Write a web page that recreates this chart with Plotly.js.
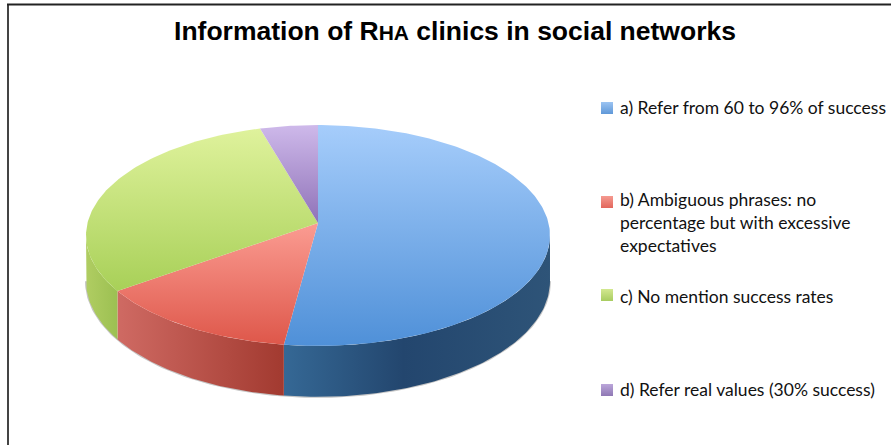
<!DOCTYPE html>
<html><head><meta charset="utf-8">
<script src="https://cdn.plot.ly/plotly-3.0.1.min.js"></script>
<style>html,body{margin:0;padding:0;background:#fff}#chart{width:891px;height:445px}</style>
</head><body><div id="chart"></div>
<script>
// ---- data ----
const categories = ["a) Refer from 60 to 96% of success",
  "b) Ambiguous phrases: no<br>percentage but with excessive<br>expectatives",
  "c) No mention success rates",
  "d) Refer real values (30% success)"];
const shares = [52.1, 13.0, 30.4, 4.5];
const chartTitle = '<b>Information of R<span style="font-size:21px">HA</span> clinics in social networks</b>';

// ---- styling ----
const topGradients = [
  [[0,'#a6cdfb'],[1,'#4f90d8']],
  [[0,'#fb9c92'],[1,'#de574a']],
  [[0,'#dff29c'],[1,'#a8d058']],
  [[0,'#ceb9ea'],[1,'#8f72b8']]
];
const wallGradients = [
  [[0,'#356895'],[0.45,'#23466e'],[1,'#2e5478']],
  [[0,'#cf6a63'],[1,'#a23a30']],
  [[0,'#b0cd62'],[1,'#9cc052']],
  [[0,'#7a5ea0'],[1,'#7a5ea0']]
];
const keyColors = ['#9cc4f2','#f59a90','#d3e890','#bba6da'];
const keyEdge = ['#5f98d8','#e2665c','#a8cc60','#8f78b4'];

// ---- projection of the tilted disc ----
const cx = 318, cy = 223, A = 230.5, B = 109, K = 0.113, H = 45.2;
const edgeAngle = Math.atan(K);
function rim(deg, drop) {
  const t = deg * Math.PI / 180, u = Math.sin(t), v = Math.cos(t), s = 1 / (1 + K * v);
  return [cx + A * u * s, cy - B * v * s + (drop ? H * s : 0)];
}
function arc(a0, a1, drop) {
  const pts = [], n = Math.max(2, Math.ceil(Math.abs(a1 - a0)));
  for (let i = 0; i <= n; i++) pts.push(rim(a0 + (a1 - a0) * i / n, drop));
  return pts;
}
const total = shares.reduce((p, c) => p + c, 0);
const traces = [];
const visLo = 90 + edgeAngle * 180 / Math.PI, visHi = 270 - edgeAngle * 180 / Math.PI;
let acc = 0;
const spans = shares.map(v => { const s = [acc, acc + v / total * 360]; acc = s[1]; return s; });

// soft edge under the walls
const edge = arc(visLo, visHi, true);
traces.push({type:'scatter', mode:'lines', x:edge.map(p => p[0]), y:edge.map(p => p[1]),
  line:{width:2, color:'rgba(90,90,90,0.35)'}, hoverinfo:'skip', showlegend:false});

// side walls
spans.forEach((sp, i) => {
  const a0 = Math.max(sp[0], visLo), a1 = Math.min(sp[1], visHi);
  if (a1 <= a0) return;
  const pts = arc(a0, a1, false).concat(arc(a1, a0, true));
  pts.push(pts[0]);
  const xs = pts.map(p => p[0]);
  traces.push({type:'scatter', mode:'lines', x:xs, y:pts.map(p => p[1]), fill:'toself',
    line:{width:0}, hoverinfo:'skip', showlegend:false,
    fillgradient:{type:'horizontal', colorscale:wallGradients[i], start:Math.min(...xs), stop:Math.max(...xs)}});
});
// top faces
spans.forEach((sp, i) => {
  const pts = [[cx, cy]].concat(arc(sp[0], sp[1], false));
  pts.push([cx, cy]);
  const ys = pts.map(p => p[1]);
  traces.push({type:'scatter', mode:'lines', x:pts.map(p => p[0]), y:ys, fill:'toself',
    line:{width:0}, name:categories[i], hoverinfo:'name', showlegend:false,
    fillgradient:{type:'vertical', colorscale:topGradients[i], start:Math.min(...ys), stop:Math.max(...ys)}});
});

// legend keys
const keyX = 607, keyY = [108, 202, 295, 390], labelX = 619, labelTop = [96, 188, 285, 378];
categories.forEach((c, i) => {
  traces.push({type:'scatter', mode:'markers', x:[keyX], y:[keyY[i]], showlegend:false, hoverinfo:'skip',
    marker:{symbol:'square', size:12, color:keyColors[i], line:{width:0},
      gradient:{type:'vertical', color:keyEdge[i]}}});
});
const annotations = categories.map((c, i) => ({
  xref:'x', yref:'y', x:labelX, y:labelTop[i], xanchor:'left', yanchor:'top', align:'left',
  showarrow:false, text:c, borderpad:0, font:{family:'Lato, sans-serif', size:17.5, color:'#111'}
}));

const layout = {
  width:891, height:445, margin:{l:0,r:0,t:0,b:0}, showlegend:false,
  paper_bgcolor:'#fff', plot_bgcolor:'#fff',
  title:{text:chartTitle, x:455/891, xanchor:'center', y:1-31/445, yanchor:'middle',
    font:{family:'Liberation Sans, Arial, sans-serif', size:26.5, color:'#000'}},
  xaxis:{range:[0,891], visible:false, fixedrange:true},
  yaxis:{range:[445,0], visible:false, fixedrange:true},
  annotations,
  shapes:[
    {type:'line', xref:'x', yref:'y', x0:8, x1:8, y0:4.5, y1:445, line:{color:'#444', width:2}},
    {type:'line', xref:'x', yref:'y', x0:7, x1:891, y0:4.5, y1:4.5, line:{color:'#222', width:2}}
  ]
};
Plotly.newPlot('chart', traces, layout, {displayModeBar:false, staticPlot:true});
</script></body></html>
